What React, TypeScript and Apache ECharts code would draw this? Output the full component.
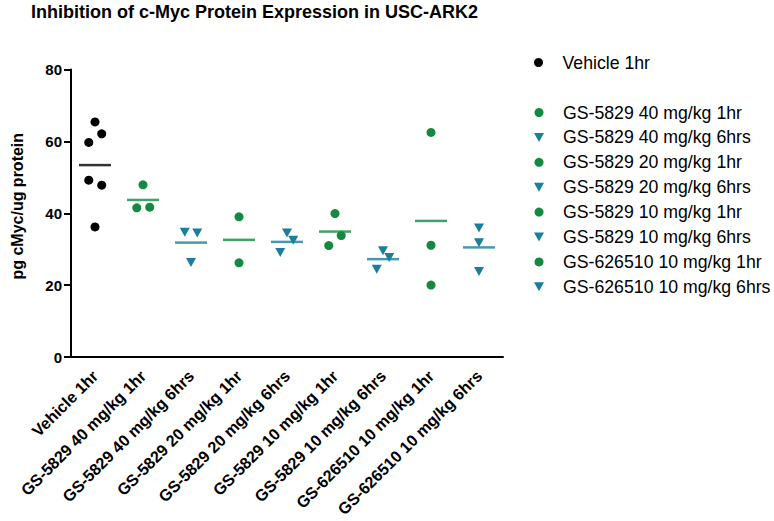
import React, { useEffect, useRef } from "react";
import * as echarts from "echarts";

const categories = [
  "Vehicle 1hr",
  "GS-5829 40 mg/kg 1hr",
  "GS-5829 40 mg/kg 6hrs",
  "GS-5829 20 mg/kg 1hr",
  "GS-5829 20 mg/kg 6hrs",
  "GS-5829 10 mg/kg 1hr",
  "GS-5829 10 mg/kg 6hrs",
  "GS-626510 10 mg/kg 1hr",
  "GS-626510 10 mg/kg 6hrs",
];

const vehicle1hr = [65.4, 62.1, 59.7, 49.2, 47.8, 36.2];
const gs40_1hr = [47.9, 41.5, 41.7];
const gs40_6hrs = [34.7, 34.5, 26.3];
const gs20_1hr = [39.0, 26.2];
const gs20_6hrs = [34.5, 32.5, 29.1];
const gs10_1hr = [39.9, 33.8, 31.0];
const gs10_6hrs = [29.6, 27.7, 24.4];
const gs626_1hr = [62.5, 31.1, 20.0];
const gs626_6hrs = [35.9, 31.8, 23.8];

// horizontal jitter (fraction of category band)
const vehicleJitter = [0, 0.14, -0.13, -0.13, 0.14, 0];
const gs40_1hrJitter = [0, -0.13, 0.14];
const gs40_6hrsJitter = [-0.13, 0.13, 0];
const gs20_1hrJitter = [0, 0];
const gs20_6hrsJitter = [0, 0.13, -0.14];
const gs10_1hrJitter = [0, 0.13, -0.13];
const gs10_6hrsJitter = [0, 0.13, -0.13];
const gs626_1hrJitter = [0, 0, 0];
const gs626_6hrsJitter = [0, 0, 0];

const yTicks = [0, 20, 40, 60, 80];

const BLACK = "#000000";
const GREEN = "#138a3f";
const TEAL = "#1a7f9c";
const CIRCLE = "circle";
const TRIANGLE = "path://M0,0L10,0L5,9Z";
const FONT = "Arial, 'Liberation Sans', sans-serif";

export default function App() {
  const ref = useRef<HTMLDivElement>(null);
  useEffect(() => {
    if (!ref.current) return;
    const chart = echarts.init(ref.current, null, { renderer: "svg" });

    const groups = [
      { values: vehicle1hr, jitter: vehicleJitter, color: BLACK, symbol: CIRCLE },
      { values: gs40_1hr, jitter: gs40_1hrJitter, color: GREEN, symbol: CIRCLE },
      { values: gs40_6hrs, jitter: gs40_6hrsJitter, color: TEAL, symbol: TRIANGLE },
      { values: gs20_1hr, jitter: gs20_1hrJitter, color: GREEN, symbol: CIRCLE },
      { values: gs20_6hrs, jitter: gs20_6hrsJitter, color: TEAL, symbol: TRIANGLE },
      { values: gs10_1hr, jitter: gs10_1hrJitter, color: GREEN, symbol: CIRCLE },
      { values: gs10_6hrs, jitter: gs10_6hrsJitter, color: TEAL, symbol: TRIANGLE },
      { values: gs626_1hr, jitter: gs626_1hrJitter, color: GREEN, symbol: CIRCLE },
      { values: gs626_6hrs, jitter: gs626_6hrsJitter, color: TEAL, symbol: TRIANGLE },
    ];

    const pointSeries = groups.map((g, i) => ({
      type: "scatter",
      name: categories[i],
      xAxisIndex: 1,
      symbol: g.symbol,
      symbolSize: g.symbol === CIRCLE ? 9 : [10, 9],
      itemStyle: { color: g.color, opacity: 1 },
      z: 3,
      data: g.values.map((v, j) => [i + 0.5 + g.jitter[j], v]),
    }));

    const meanSeries = {
      type: "scatter",
      name: "mean",
      xAxisIndex: 1,
      symbol: "rect",
      symbolSize: [32, 2.5],
      z: 2,
      data: groups.map((g, i) => ({
        value: [i + 0.5, g.values.reduce((a, b) => a + b, 0) / g.values.length],
        itemStyle: { color: g.color },
      })),
    };

    const legendText = { fontFamily: FONT, fontSize: 17.7, color: "#000" };

    chart.setOption({
      animation: false,
      backgroundColor: "#ffffff",
      title: {
        text: "Inhibition of c-Myc Protein Expression in USC-ARK2",
        left: 26,
        top: -2,
        textStyle: { fontFamily: FONT, fontSize: 18, fontWeight: "bold", color: "#000" },
      },
      legend: [
        {
          orient: "vertical",
          left: 529,
          top: 48.5,
          itemWidth: 38,
          itemHeight: 9,
          itemGap: 6.9,
          textStyle: legendText,
          data: [{ name: categories[0], icon: CIRCLE }],
        },
        {
          orient: "vertical",
          left: 529,
          top: 98.5,
          itemWidth: 38,
          itemHeight: 9,
          itemGap: 6.9,
          textStyle: legendText,
          data: categories.slice(1).map((c, i) => ({
            name: c,
            icon: i % 2 === 0 ? CIRCLE : TRIANGLE,
          })),
        },
      ],
      grid: {
        left: 71,
        top: 69.5,
        width: 432,
        height: 287.5,
        containLabel: false,
        outerBoundsMode: "none",
      },
      xAxis: [
        {
          type: "category",
          data: categories,
          axisLine: { lineStyle: { color: "#000", width: 2 } },
          axisTick: { alignWithLabel: true, length: 6, lineStyle: { color: "#000", width: 2 } },
          axisLabel: {
            rotate: 45,
            margin: 16,
            interval: 0,
            fontFamily: FONT,
            fontSize: 16.2,
            fontWeight: "bold",
            color: "#000",
          },
        },
        { type: "value", min: 0, max: 9, show: false },
      ],
      yAxis: {
        type: "value",
        min: yTicks[0],
        max: yTicks[yTicks.length - 1],
        interval: 20,
        name: "pg cMyc/ug protein",
        nameLocation: "middle",
        nameGap: 46,
        nameTextStyle: {
          fontFamily: FONT,
          fontSize: 16,
          fontWeight: "bold",
          color: "#000",
          padding: [0, 0, 0, 14],
        },
        splitLine: { show: false },
        axisLine: { show: true, lineStyle: { color: "#000", width: 2 } },
        axisTick: { show: true, length: 7, lineStyle: { color: "#000", width: 2 } },
        axisLabel: {
          margin: 9,
          fontFamily: FONT,
          fontSize: 15,
          fontWeight: "bold",
          color: "#000",
        },
      },
      series: [...pointSeries, meanSeries],
    });
    return () => chart.dispose();
  }, []);
  return (
    <div
      ref={ref}
      style={{ position: "fixed", left: 0, top: 0, width: 774, height: 521, background: "#fff" }}
    />
  );
}
